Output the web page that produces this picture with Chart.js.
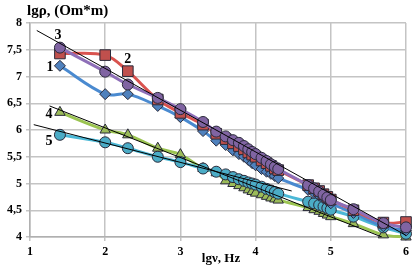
<!DOCTYPE html>
<html><head><meta charset="utf-8">
<script src="https://cdn.jsdelivr.net/npm/chart.js@4/dist/chart.umd.min.js"></script>
<style>html,body{margin:0;padding:0;background:#fff}#w{width:416px;height:271px;position:relative}</style>
</head><body><div id="w"><canvas id="c"></canvas></div>
<script>
const lgNu = [1.398, 2, 2.301, 2.699, 3, 3.301, 3.477, 3.602, 3.699, 3.778, 3.845, 3.903, 3.954, 4, 4.079, 4.146, 4.204, 4.255, 4.301, 4.699, 4.778, 4.845, 4.903, 4.954, 5, 5.301, 5.699, 6];
const series1 = [7.2, 6.67, 6.67, 6.45, 6.24, 5.98, 5.8, 5.72, 5.62, 5.55, 5.5, 5.44, 5.38, 5.34, 5.27, 5.22, 5.18, 5.14, 5.1, 4.88, 4.82, 4.77, 4.72, 4.68, 4.63, 4.45, 4.2, 4.12];
const series2 = [7.43, 7.4, 7.1, 6.57, 6.32, 6.1, 5.93, 5.83, 5.75, 5.7, 5.64, 5.58, 5.54, 5.5, 5.43, 5.38, 5.33, 5.28, 5.25, 4.97, 4.91, 4.86, 4.8, 4.75, 4.7, 4.5, 4.27, 4.28];
const series3 = [7.54, 7.09, 6.85, 6.6, 6.39, 6.15, 5.97, 5.88, 5.81, 5.76, 5.7, 5.64, 5.59, 5.55, 5.48, 5.42, 5.36, 5.31, 5.27, 4.97, 4.91, 4.85, 4.79, 4.74, 4.69, 4.52, 4.26, 4.18];
const series4 = [6.33, 6.0, 5.91, 5.66, 5.54, 5.28, 5.2, 5.05, 5.0, 4.96, 4.92, 4.88, 4.85, 4.82, 4.79, 4.76, 4.73, 4.71, 4.69, 4.55, 4.51, 4.48, 4.44, 4.41, 4.38, 4.25, 4.04, 4.0];
const series5 = [5.91, 5.77, 5.66, 5.5, 5.4, 5.28, 5.22, 5.17, 5.12, 5.08, 5.05, 5.02, 5.0, 4.98, 4.94, 4.9, 4.87, 4.84, 4.81, 4.66, 4.63, 4.6, 4.57, 4.54, 4.51, 4.38, 4.18, 4.06];
const trend3X = [1.09, 6.0], trend3Y = [7.86, 4.03];
const trend4X = [1.26, 5.68], trend4Y = [6.45, 4.0];
const trend5X = [1.05, 4.48], trend5Y = [6.10, 4.86];
const seriesNames = ['1', '2', '3', '4', '5'];
const xTicks = [1, 2, 3, 4, 5, 6];
const yTitle = 'lgρ, (Om*m)';
const xTitle = 'lgν, Hz';

const pts = (xs, ys) => xs.map((x, i) => ({x: x, y: ys[i]}));
const serif = '"Liberation Serif", "Times New Roman", serif';
const radii = {rect: 7.5, rectRot: 5.5, circle: 5.5, triangle: 6};

function ser(name, ys, color, line, shape, order) {
  return {label: name, data: pts(lgNu, ys), borderColor: line, backgroundColor: color,
    pointBackgroundColor: color, pointBorderColor: '#2a2a3a', pointBorderWidth: 1,
    pointStyle: shape, pointRadius: radii[shape],
    borderWidth: 3, tension: 0.35, order: order, clip: false};
}
function trend(xs, ys) {
  return {label: '', data: pts(xs, ys), borderColor: '#000', borderWidth: 1, pointRadius: 0, order: 0, tension: 0};
}

const labelPlugin = {
  id: 'labels',
  afterDraw(chart) {
    const ctx = chart.ctx, xs = chart.scales.x, ys = chart.scales.y;
    ctx.save();
    ctx.fillStyle = '#000';
    ctx.font = 'bold 14px ' + serif;
    ctx.textBaseline = 'middle';
    ctx.textAlign = 'center';
    const off = [[-10, 2, 0], [0, -12, 2], [-2, -12, 0], [-11, 2, 0], [-11, 7, 0]];
    const sets = [series1, series2, series3, series4, series5];
    sets.forEach((s, i) => {
      const k = off[i][2];
      ctx.fillText(seriesNames[i], xs.getPixelForValue(lgNu[k]) + off[i][0], ys.getPixelForValue(s[k]) + off[i][1]);
    });
    ctx.font = 'bold 15px ' + serif;
    ctx.textAlign = 'left';
    ctx.fillText(yTitle, chart.chartArea.left - 3, 11);
    ctx.font = 'bold 13px ' + serif;
    ctx.textAlign = 'center';
    ctx.fillText(xTitle, 221, 259);
    ctx.restore();
  }
};

new Chart(document.getElementById('c'), {
  type: 'line',
  data: {datasets: [
    trend(trend3X, trend3Y), trend(trend4X, trend4Y), trend(trend5X, trend5Y),
    ser('3', series3, '#8064a2', '#8e6fb8', 'circle', 1),
    ser('2', series2, '#c0504d', '#d9534f', 'rect', 2),
    ser('1', series1, '#4f81bd', '#4a8ad0', 'rectRot', 3),
    ser('5', series5, '#4bacc6', '#4bb8d6', 'circle', 4),
    ser('4', series4, '#9bbb59', '#9bc451', 'triangle', 5)
  ]},
  options: {
    responsive: true, maintainAspectRatio: false, animation: false,
    layout: {padding: {top: 23, right: 10, left: 0, bottom: 0}},
    plugins: {legend: {display: false}, tooltip: {enabled: false}},
    scales: {
      x: {type: 'linear', min: 1, max: 6,
        afterFit(s) { s.height = 34; },
        afterBuildTicks(s) { s.ticks = xTicks.map(v => ({value: v})); },
        grid: {color: '#c4c4c4', lineWidth: 1.5, tickLength: 4, drawTicks: true},
        border: {color: '#b0b0b0', width: 1.5},
        ticks: {font: {family: serif, size: 12, weight: 'bold'}, color: '#000', padding: 4}
      },
      y: {type: 'linear', min: 4, max: 8,
        afterFit(s) { s.width = 30; },
        grid: {color: '#c4c4c4', lineWidth: 1.5, tickLength: 4},
        border: {color: '#b0b0b0', width: 1.5},
        ticks: {stepSize: 0.5, font: {family: serif, size: 12, weight: 'bold'}, color: '#000', padding: 4,
          callback: v => String(v).replace('.', ',')}
      }
    }
  },
  plugins: [labelPlugin]
});
</script></body></html>
